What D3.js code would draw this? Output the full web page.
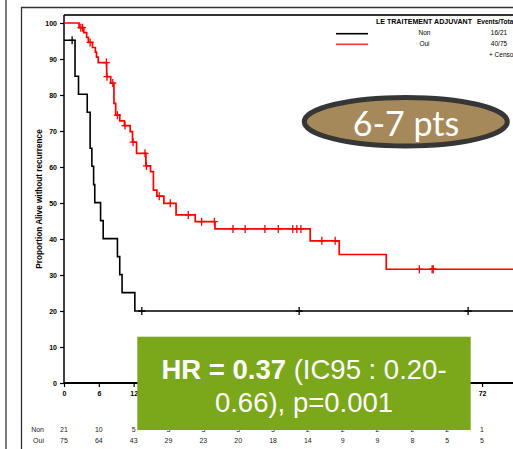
<!DOCTYPE html>
<html><head><meta charset="utf-8">
<script src="https://cdn.jsdelivr.net/npm/d3@7"></script>
<style>html,body{margin:0;padding:0;background:#fff;overflow:hidden}svg{display:block}</style>
</head><body>
<svg id="c" width="513" height="449"></svg>
<script>
// ---- data (months, % alive without recurrence) ----
const nonTimes = [0, 1.9, 2.5, 4.0, 4.5, 4.8, 5.1, 5.3, 6.3, 6.75, 9.2, 9.6, 10.0, 12.2, 80];
const nonSurv  = [95.2, 85.2, 80.2, 75.2, 65.2, 60.2, 55.1, 50.1, 45.1, 40.1, 35.1, 30.1, 25.1, 20.0, 20.0];
const nonCensor = [1.4, 13.4, 40.5, 69.6];

const ouiTimes = [0, 2.6, 3.4, 3.9, 4.2, 4.9, 5.4, 5.6, 5.9, 7.35, 8.05, 8.6, 8.9, 9.6, 10.4, 11.4, 11.8, 12.5, 14.1, 14.9, 15.4, 16.0, 17.2, 19.3, 22.6, 26.0, 42.4, 47.4, 55.5, 80];
const ouiSurv  = [100, 98.7, 97.3, 96.0, 94.6, 93.2, 91.9, 90.5, 89.0, 85.1, 83.3, 77.7, 74.4, 72.8, 71.5, 69.8, 66.9, 63.8, 60.3, 58.7, 53.6, 51.9, 49.9, 46.7, 44.8, 42.8, 39.5, 35.7, 31.6, 31.6];
const ouiCensor = [2.9, 3.2, 4.5, 7.3, 7.4, 8.4, 9.2, 10.5, 11.9, 13.95, 14.2, 16.4, 18.3, 21.4, 23.7, 25.9, 29.1, 31.2, 34.6, 36.9, 39.4, 40.1, 40.8, 44.4, 46.7, 61.2, 63.4, 63.6];

const xTicks = [0, 6, 12, 18, 24, 30, 36, 42, 48, 54, 60, 66, 72, 78];
const yTicks = [0, 10, 20, 30, 40, 50, 60, 70, 80, 90, 100];
const riskGroups = ["Non", "Oui"];
const riskNon = [21, 10, 5, 3, 3, 3, 3, 2, 2, 2, 2, 2, 1];
const riskOui = [75, 64, 43, 29, 23, 20, 18, 14, 9, 9, 8, 5, 5];
const legendEvents = ["16/21", "40/75"];

const svg = d3.select("#c");
const x = d3.scaleLinear().domain([0, 78]).range([64, 516.9]);
const y = d3.scaleLinear().domain([0, 100]).range([383, 23]);
const F = "'Liberation Sans', Arial, sans-serif";

// frames
const frame = svg.append("g").attr("stroke", "#333").attr("stroke-width", 1.3).attr("fill", "none");
frame.append("line").attr("x1", 6).attr("x2", 6).attr("y1", 0).attr("y2", 449);
frame.append("path").attr("d", "M21.5,449 V7.5 H513");
svg.append("line").attr("x1", 64).attr("x2", 513).attr("y1", 15).attr("y2", 15)
  .attr("stroke", "#333").attr("stroke-width", 2.2);

// axes
const yAxis = svg.append("g").attr("transform", "translate(64,0)")
  .call(d3.axisLeft(y).tickValues(yTicks).tickSize(4).tickPadding(3));
yAxis.select(".domain").attr("d", "M0,15V383").attr("stroke", "#000").attr("stroke-width", 1.5);
const xAxis = svg.append("g").attr("transform", "translate(0,383)")
  .call(d3.axisBottom(x).tickValues(xTicks).tickSize(4).tickPadding(4));
xAxis.select(".domain").attr("d", "M64,0H513").attr("stroke", "#000").attr("stroke-width", 2);
[yAxis, xAxis].forEach(a => {
  a.selectAll("text").attr("font-family", F).attr("font-size", 7).attr("font-weight", "bold").attr("fill", "#000");
  a.selectAll(".tick line").attr("stroke", "#000").attr("stroke-width", 1.2);
});

svg.append("text").attr("transform", "translate(42,199) rotate(-90)")
  .attr("text-anchor", "middle").attr("font-family", F).attr("font-size", 8.2)
  .attr("font-weight", "bold").text("Proportion Alive without recurrence");

// curves
const clip = svg.append("clipPath").attr("id", "pc").append("rect")
  .attr("x", 64).attr("y", 14).attr("width", 460).attr("height", 371);
const g = svg.append("g").attr("clip-path", "url(#pc)");
const line = d3.line().x(d => x(d[0])).y(d => y(d[1])).curve(d3.curveStepAfter);
function stepAt(times, surv, t) { let v = surv[0]; for (let i = 0; i < times.length; i++) if (times[i] <= t) v = surv[i]; return v; }
function drawSeries(times, surv, cens, color, w) {
  g.append("path").datum(times.map((t, i) => [t, surv[i]]))
    .attr("d", line).attr("fill", "none").attr("stroke", color).attr("stroke-width", w);
  cens.forEach(t => {
    const cx = x(t), cy = y(stepAt(times, surv, t));
    g.append("path").attr("d", `M${cx - 3.5},${cy}H${cx + 3.5}M${cx},${cy - 4}V${cy + 4}`)
      .attr("stroke", color).attr("stroke-width", 1.3).attr("fill", "none");
  });
}
drawSeries(nonTimes, nonSurv, nonCensor, "#000", 1.6);
drawSeries(ouiTimes, ouiSurv, ouiCensor, "#ff0000", 1.7);

// legend
const lg = svg.append("g").attr("font-family", F).attr("font-size", 6.5).attr("fill", "#000");
lg.append("text").attr("x", 376).attr("y", 23.5).attr("font-weight", "bold")
  .attr("textLength", 96).attr("lengthAdjust", "spacingAndGlyphs").text("LE TRAITEMENT ADJUVANT");
lg.append("text").attr("x", 477).attr("y", 23.5).attr("font-weight", "bold").text("Events/Total");
[["#000", 33.7], ["#ff3030", 44.3]].forEach((d, i) => {
  lg.append("line").attr("x1", 336).attr("x2", 368).attr("y1", d[1]).attr("y2", d[1])
    .attr("stroke", d[0]).attr("stroke-width", 1.6);
  lg.append("text").attr("x", 424.5).attr("y", d[1] + 1.5).attr("text-anchor", "middle").text(riskGroups[i]);
  lg.append("text").attr("x", 499).attr("y", d[1] + 1.5).attr("text-anchor", "middle").text(legendEvents[i]);
});
lg.append("text").attr("x", 489).attr("y", 56.5).text("+  Censored");

// risk table
const rt = svg.append("g").attr("font-family", F).attr("font-size", 7).attr("fill", "#222");
[[riskNon, 432], [riskOui, 442.5]].forEach((r, i) => {
  rt.append("text").attr("x", 44).attr("y", r[1]).attr("text-anchor", "end").text(riskGroups[i]);
  r[0].forEach((v, j) => rt.append("text").attr("x", x(xTicks[j])).attr("y", r[1]).attr("text-anchor", "middle").text(v));
});

// ellipse annotation
svg.append("ellipse").attr("cx", 405.8).attr("cy", 121.7).attr("rx", 101.5).attr("ry", 24.3)
  .attr("fill", "#a5895a").attr("stroke", "#363636").attr("stroke-width", 5);
svg.append("text").attr("x", 406).attr("y", 136).attr("text-anchor", "middle")
  .attr("font-family", "Lato, 'Open Sans', sans-serif").attr("font-size", 34).attr("fill", "#fff").text("6-7 pts");

// HR box
svg.append("rect").attr("x", 137.3).attr("y", 336.7).attr("width", 333.4).attr("height", 93.3).attr("fill", "#7ba71b");
const t1 = svg.append("text").attr("x", 304).attr("y", 378.5).attr("text-anchor", "middle")
  .attr("font-family", F).attr("font-size", 27.5).attr("fill", "#fff");
t1.append("tspan").attr("font-weight", "bold").text("HR = 0.37");
t1.append("tspan").text(" (IC95 : 0.20-");
svg.append("text").attr("x", 304).attr("y", 411.7).attr("text-anchor", "middle")
  .attr("font-family", F).attr("font-size", 27.5).attr("fill", "#fff").text("0.66), p=0.001");
</script>
</body></html>
